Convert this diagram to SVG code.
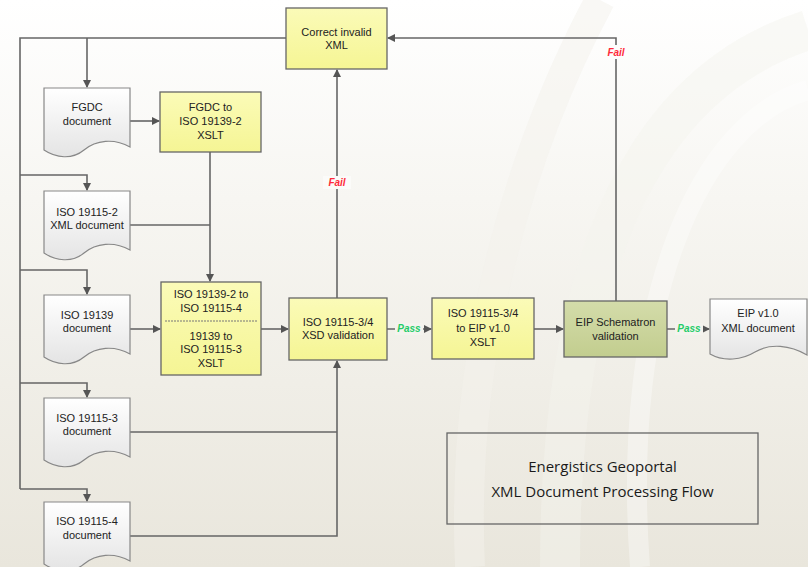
<svg xmlns="http://www.w3.org/2000/svg" xmlns:xlink="http://www.w3.org/1999/xlink" width="808" height="567" viewBox="0 0 808 567">
<defs>
<linearGradient id="bg" x1="0" y1="0" x2="0" y2="1">
<stop offset="0" stop-color="#ffffff"/><stop offset="0.35" stop-color="#f7f6f2"/><stop offset="1" stop-color="#e9e6dc"/>
</linearGradient>
<linearGradient id="yel" x1="0" y1="0" x2="0" y2="1">
<stop offset="0" stop-color="#fbfbb8"/><stop offset="1" stop-color="#f5f594"/>
</linearGradient>
<linearGradient id="grn" x1="0" y1="0" x2="0" y2="1">
<stop offset="0" stop-color="#d4dcaa"/><stop offset="1" stop-color="#c2cd8e"/>
</linearGradient>
<linearGradient id="doc" x1="0" y1="0" x2="0" y2="1">
<stop offset="0" stop-color="#ffffff"/><stop offset="1" stop-color="#e4e4e4"/>
</linearGradient>
<path id="docshape" d="M0,0 H86 V59 C70,50 52,52 40,62 C28,72 12,70 0,62 Z"/>
<marker id="arr" markerWidth="8" markerHeight="8" refX="7" refY="4" orient="auto" markerUnits="userSpaceOnUse">
<path d="M0,0 L8,4 L0,8 Z" fill="#555"/>
</marker>
</defs>
<style>
.ln{fill:none;stroke:#666;stroke-width:1.6}
.ar{fill:none;stroke:#666;stroke-width:1.6;marker-end:url(#arr)}
.box{fill:url(#yel);stroke:#666;stroke-width:1.3}
.gbox{fill:url(#grn);stroke:#666;stroke-width:1.3}
.dc{fill:url(#doc);stroke:#888;stroke-width:1.2}
.t{font-family:"Liberation Sans",Arial,sans-serif;font-size:11px;fill:#222;text-anchor:middle}
.fail{font-family:"Liberation Sans",Arial,sans-serif;font-size:10px;font-weight:bold;font-style:italic;fill:#ff2a3a;text-anchor:middle}
.pass{font-family:"Liberation Sans",Arial,sans-serif;font-size:10px;font-weight:bold;font-style:italic;fill:#22cc66;text-anchor:middle}
.title{font-family:"Open Sans","Liberation Sans",sans-serif;font-size:15px;fill:#1a1a1a;text-anchor:middle}
</style>
<rect width="808" height="567" fill="url(#bg)"/>
<path d="M600,0 C520,150 460,350 470,567" fill="none" stroke="#f3f1ec" stroke-width="30" opacity="0.5"/>
<path d="M808,30 C650,80 560,250 560,567" fill="none" stroke="#f5f3ee" stroke-width="40" opacity="0.45"/>
<path d="M808,90 C700,120 620,300 640,567" fill="none" stroke="#ffffff" stroke-width="20" opacity="0.35"/>

<g id="connectors">
<path class="ln" d="M286,38 H20 V489"/>
<path class="ar" d="M87,38 V87"/>
<path class="ar" d="M20,175 H87 V190"/>
<path class="ar" d="M20,270 H87 V294"/>
<path class="ar" d="M20,383 H87 V397"/>
<path class="ar" d="M20,489 H87 V501"/>
<path class="ar" d="M130,121 H159"/>
<path class="ar" d="M210,152 V281"/>
<path class="ln" d="M130,225 H210"/>
<path class="ar" d="M130,329 H160"/>
<path class="ar" d="M261,329 H288"/>
<path class="ar" d="M337,298 V70"/>
<path class="ln" d="M130,432 H337"/>
<path class="ar" d="M130,536 H337 V361"/>
<path class="ar" d="M387,329 H431"/>
<path class="ar" d="M534,329 H563"/>
<path class="ar" d="M616,301 V38 H388"/>
<path class="ar" d="M667,329 H709"/>
<rect x="323" y="176" width="28" height="13" fill="#fbfbf9"/>
<text class="fail" x="337" y="186">Fail</text>
<rect x="604" y="45" width="24" height="14" fill="#fdfdfc"/>
<text class="fail" x="616" y="56">Fail</text>
<rect x="395" y="323" width="28" height="12" fill="#f4f3ee"/>
<text class="pass" x="409" y="332">Pass</text>
<rect x="675" y="323" width="28" height="12" fill="#f4f3ee"/>
<text class="pass" x="689" y="332">Pass</text>
</g>

<g id="correct">
<rect class="box" x="286" y="8" width="101" height="61"/>
<text class="t" x="336.5" y="36">Correct invalid</text>
<text class="t" x="336.5" y="49">XML</text>
</g>
<g id="fgdc-doc">
<use xlink:href="#docshape" class="dc" x="44" y="88"/>
<text class="t" x="87" y="111">FGDC</text>
<text class="t" x="87" y="125">document</text>
</g>
<g id="fgdc-xslt">
<rect class="box" x="160" y="92" width="101" height="60"/>
<text class="t" x="210.5" y="111">FGDC to</text>
<text class="t" x="210.5" y="125">ISO 19139-2</text>
<text class="t" x="210.5" y="139">XSLT</text>
</g>
<g id="iso191152-doc">
<use xlink:href="#docshape" class="dc" x="44" y="191"/>
<text class="t" x="87" y="216">ISO 19115-2</text>
<text class="t" x="87" y="229">XML document</text>
</g>
<g id="iso19139-doc">
<use xlink:href="#docshape" class="dc" x="44" y="295"/>
<text class="t" x="87" y="319">ISO 19139</text>
<text class="t" x="87" y="332">document</text>
</g>
<g id="iso191153-doc">
<use xlink:href="#docshape" class="dc" x="44" y="398"/>
<text class="t" x="87" y="422">ISO 19115-3</text>
<text class="t" x="87" y="435">document</text>
</g>
<g id="iso191154-doc">
<use xlink:href="#docshape" class="dc" x="44" y="502"/>
<text class="t" x="87" y="525">ISO 19115-4</text>
<text class="t" x="87" y="539">document</text>
</g>
<g id="conv-xslt">
<rect class="box" x="161" y="282" width="100" height="93"/>
<line x1="165" y1="321" x2="257" y2="321" stroke="#777" stroke-width="1" stroke-dasharray="2,1"/>
<text class="t" x="211" y="298">ISO 19139-2 to</text>
<text class="t" x="211" y="312">ISO 19115-4</text>
<text class="t" x="211" y="340">19139 to</text>
<text class="t" x="211" y="353">ISO 19115-3</text>
<text class="t" x="211" y="367">XSLT</text>
</g>
<g id="xsd">
<rect class="box" x="289" y="298" width="98" height="62"/>
<text class="t" x="338" y="326">ISO 19115-3/4</text>
<text class="t" x="338" y="339">XSD validation</text>
</g>
<g id="eip-xslt">
<rect class="box" x="432" y="298" width="102" height="61"/>
<text class="t" x="483" y="317">ISO 19115-3/4</text>
<text class="t" x="483" y="332">to EIP v1.0</text>
<text class="t" x="483" y="346">XSLT</text>
</g>
<g id="schematron">
<rect class="gbox" x="564" y="301" width="103" height="56"/>
<text class="t" x="615.5" y="326">EIP Schematron</text>
<text class="t" x="615.5" y="340">validation</text>
</g>
<g id="eip-doc">
<path class="dc" d="M710,299 H807 V355 C790,345 770,343 755,352 C742,360 724,362 710,354 Z"/>
<text class="t" x="758" y="317">EIP v1.0</text>
<text class="t" x="758" y="332">XML document</text>
</g>
<g id="title">
<rect x="447" y="433" width="311" height="91" fill="none" stroke="#666" stroke-width="1.3"/>
<text class="title" x="602.5" y="472">Energistics Geoportal</text>
<text class="title" x="602.5" y="497">XML Document Processing Flow</text>
</g>
</svg>
